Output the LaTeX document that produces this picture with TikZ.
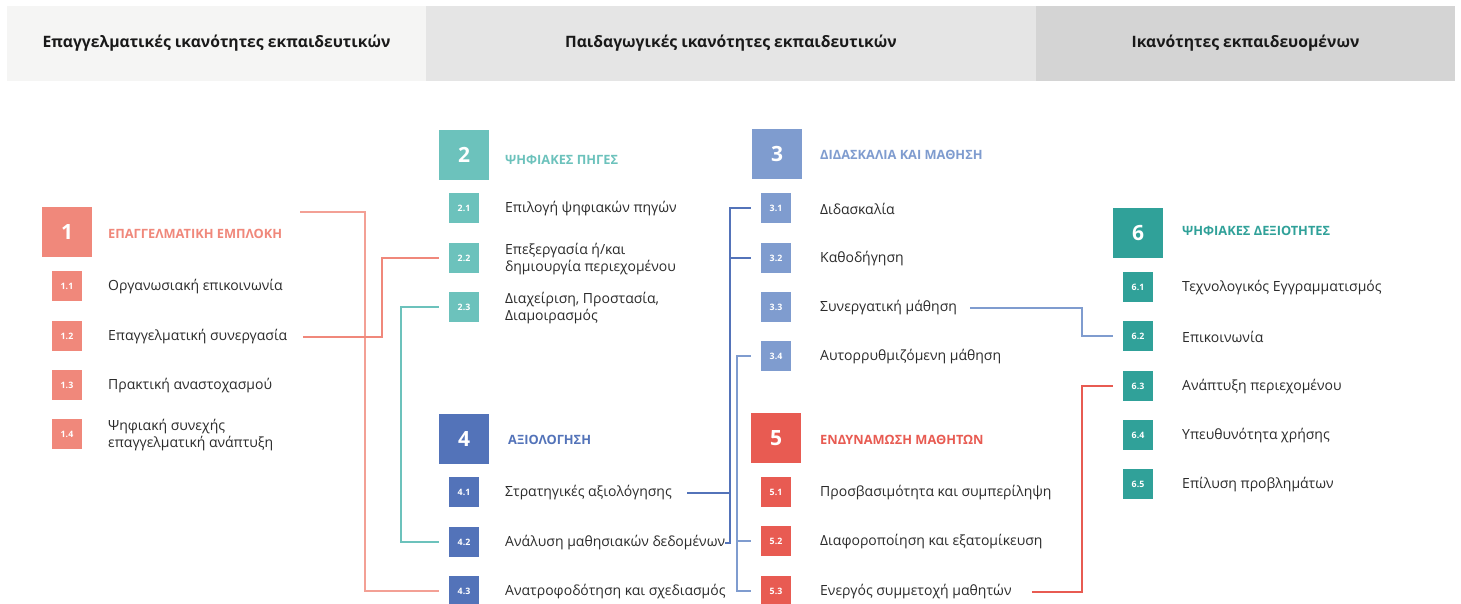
\documentclass[tikz,border=0pt]{standalone}
\usepackage{fontspec}
\setmainfont{Open Sans}
\usetikzlibrary{backgrounds}

\definecolor{hdrA}{HTML}{F5F5F4}
\definecolor{hdrB}{HTML}{E5E5E5}
\definecolor{hdrC}{HTML}{D4D4D4}
\definecolor{colA}{HTML}{F0887B}
\definecolor{colB}{HTML}{6CC2BC}
\definecolor{colC}{HTML}{7F9CCF}
\definecolor{colD}{HTML}{5373B9}
\definecolor{colE}{HTML}{E85B52}
\definecolor{colF}{HTML}{30A199}
\definecolor{txt}{HTML}{2B2B2B}

\tikzset{
  header/.style={fill=#1, minimum height=75pt, inner sep=0pt, text=black!90,
    font=\bfseries\fontsize{15.7}{18}\selectfont},
  bigbox/.style={fill=#1, minimum size=50pt, inner sep=0pt, text=white,
    font=\bfseries\fontsize{21}{21}\selectfont},
  subbox/.style={fill=#1, minimum size=30pt, inner sep=0pt, text=white,
    font=\bfseries\fontsize{8.8}{9}\selectfont},
  title/.style={anchor=west, inner sep=0pt, text=#1,
    font=\bfseries\fontsize{12.8}{14}\selectfont},
  item/.style={anchor=west, inner sep=0pt, align=left, text=txt,
    font=\fontsize{14}{17}\selectfont},
  trunk/.style={draw=#1!75, line width=2pt},
  link/.style={draw=#1, line width=1.5pt}
}

\begin{document}
\begin{tikzpicture}[x=1pt, y=-1pt]
  \path[use as bounding box, fill=white] (0,0) rectangle (1461,603);

  % headers
  \node[header=hdrA, minimum width=419pt] (h1) at (216.5,43.5) {Επαγγελματικές ικανότητες εκπαιδευτικών};
  \node[header=hdrB, minimum width=610pt] (h2) at (731,43.5) {Παιδαγωγικές ικανότητες εκπαιδευτικών};
  \node[header=hdrC, minimum width=419pt] (h3) at (1245.5,43.5) {Ικανότητες εκπαιδευομένων};

  % 1
  \node[bigbox=colA] (b1) at (67,232) {1};
  \node[title=colA] (ti1) at (108,234) {ΕΠΑΓΓΕΛΜΑΤΙΚΗ ΕΜΠΛΟΚΗ};
  \node[subbox=colA] (s11) at (67,286) {1.1}; \node[item] (t11) at (108,287) {Οργανωσιακή επικοινωνία};
  \node[subbox=colA] (s12) at (67,336) {1.2}; \node[item] (t12) at (108,337) {Επαγγελματική συνεργασία};
  \node[subbox=colA] (s13) at (67,385) {1.3}; \node[item] (t13) at (108,386) {Πρακτική αναστοχασμού};
  \node[subbox=colA] (s14) at (67,434) {1.4}; \node[item] (t14) at (108,435) {Ψηφιακή συνεχής\\επαγγελματική ανάπτυξη};

  % 2
  \node[bigbox=colB] (b2) at (464,155) {2};
  \node[title=colB] (ti2) at (505,160) {ΨΗΦΙΑΚΕΣ ΠΗΓΕΣ};
  \node[subbox=colB] (s21) at (464,208) {2.1}; \node[item] (t21) at (505,209) {Επιλογή ψηφιακών πηγών};
  \node[subbox=colB] (s22) at (464,258) {2.2}; \node[item] (t22) at (505,259) {Επεξεργασία ή/και\\δημιουργία περιεχομένου};
  \node[subbox=colB] (s23) at (464,307) {2.3}; \node[item] (t23) at (505,308) {Διαχείριση, Προστασία,\\Διαμοιρασμός};

  % 3
  \node[bigbox=colC] (b3) at (777,154) {3};
  \node[title=colC] (ti3) at (820,155) {ΔΙΔΑΣΚΑΛΙΑ ΚΑΙ ΜΑΘΗΣΗ};
  \node[subbox=colC] (s31) at (776,208) {3.1}; \node[item] (t31) at (820,209) {Διδασκαλία};
  \node[subbox=colC] (s32) at (776,258) {3.2}; \node[item] (t32) at (820,259) {Καθοδήγηση};
  \node[subbox=colC] (s33) at (776,307) {3.3}; \node[item] (t33) at (820,308) {Συνεργατική μάθηση};
  \node[subbox=colC] (s34) at (776,356) {3.4}; \node[item] (t34) at (820,357) {Αυτορρυθμιζόμενη μάθηση};

  % 4
  \node[bigbox=colD] (b4) at (464,439) {4};
  \node[title=colD] (ti4) at (508,440) {ΑΞΙΟΛΟΓΗΣΗ};
  \node[subbox=colD] (s41) at (464,492) {4.1}; \node[item] (t41) at (505,493) {Στρατηγικές αξιολόγησης};
  \node[subbox=colD] (s42) at (464,542) {4.2}; \node[item] (t42) at (505,543) {Ανάλυση μαθησιακών δεδομένων};
  \node[subbox=colD] (s43) at (464,591) {4.3}; \node[item] (t43) at (505,592) {Ανατροφοδότηση και σχεδιασμός};

  % 5
  \node[bigbox=colE] (b5) at (776,438) {5};
  \node[title=colE] (ti5) at (820,440) {ΕΝΔΥΝΑΜΩΣΗ ΜΑΘΗΤΩΝ};
  \node[subbox=colE] (s51) at (776,492) {5.1}; \node[item] (t51) at (820,493) {Προσβασιμότητα και συμπερίληψη};
  \node[subbox=colE] (s52) at (776,541) {5.2}; \node[item] (t52) at (820,542) {Διαφοροποίηση και εξατομίκευση};
  \node[subbox=colE] (s53) at (776,591) {5.3}; \node[item] (t53) at (820,592) {Ενεργός συμμετοχή μαθητών};

  % 6
  \node[bigbox=colF] (b6) at (1138,233) {6};
  \node[title=colF] (ti6) at (1182,231) {ΨΗΦΙΑΚΕΣ ΔΕΞΙΟΤΗΤΕΣ};
  \node[subbox=colF] (s61) at (1138,287) {6.1}; \node[item] (t61) at (1182,288) {Τεχνολογικός Εγγραμματισμός};
  \node[subbox=colF] (s62) at (1138,336) {6.2}; \node[item] (t62) at (1182,337) {Επικοινωνία};
  \node[subbox=colF] (s63) at (1138,386) {6.3}; \node[item] (t63) at (1182,387) {Ανάπτυξη περιεχομένου};
  \node[subbox=colF] (s64) at (1138,435) {6.4}; \node[item] (t64) at (1182,436) {Υπευθυνότητα χρήσης};
  \node[subbox=colF] (s65) at (1138,484) {6.5}; \node[item] (t65) at (1182,485) {Επίλυση προβλημάτων};

  % trunks behind the boxes
  \begin{scope}[on background layer]
    \draw[trunk=colA] (b1) -- (s14);
    \draw[trunk=colB] (b2) -- (s23);
    \draw[trunk=colC] (b3) -- (s34);
    \draw[trunk=colD] (b4) -- (s43);
    \draw[trunk=colE] (b5) -- (s53);
    \draw[trunk=colF] (b6) -- (s65);
  \end{scope}

  % links between areas
  \coordinate (k1) at ([xshift=18pt,yshift=22pt]ti1.east);
  \draw[link=colA!80] (k1) -| ([xshift=-84pt]s43.west) -- ([xshift=-10pt]s43.west);
  \draw[link=colA] ([xshift=16pt]t12.east) -| ([xshift=-67pt]s22.west) -- ([xshift=-10pt]s22.west);
  \draw[link=colB] ([xshift=-10pt]s23.west) -| ([xshift=-48pt]s42.west) -- ([xshift=-10pt]s42.west);

  \coordinate (bA) at ([xshift=-31pt]s31.west);
  \draw[link=colD] ([xshift=-10pt]s31.west) -- (bA) |- (t42.east);
  \draw[link=colD] ([xshift=-10pt]s32.west) -- (bA |- s32);
  \draw[link=colD] ([xshift=15pt]t41.east) -- (bA |- t41);

  \coordinate (bB) at ([xshift=-24pt]s34.west);
  \draw[link=colC] ([xshift=-10pt]s34.west) -- (bB) |- ([xshift=-10pt]s53.west);
  \draw[link=colC] (bB |- s52) -- ([xshift=-10pt]s52.west);

  \draw[link=colC] ([xshift=13pt]t33.east) -| ([xshift=-41pt]s62.west) -- ([xshift=-10pt]s62.west);
  \draw[link=colE] ([xshift=20pt]t53.east) -| ([xshift=-41pt]s63.west) -- ([xshift=-10pt]s63.west);
\end{tikzpicture}
\end{document}
